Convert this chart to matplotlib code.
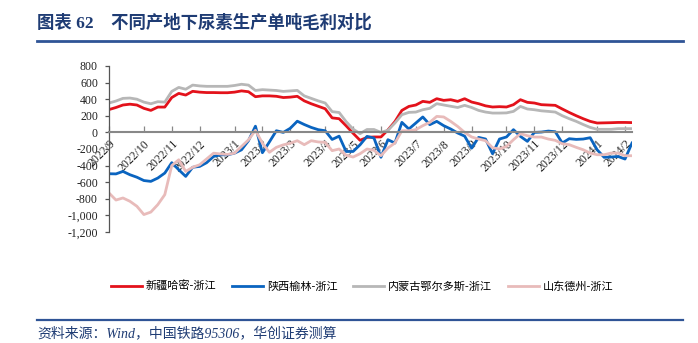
import matplotlib
matplotlib.use("Agg")
import matplotlib.pyplot as plt
from matplotlib.lines import Line2D
from matplotlib.ticker import FuncFormatter, FixedLocator, FixedFormatter
import pandas as pd

# ---- data ----
weeks = pd.date_range("2022-09-02", periods=76, freq="7D")

xinjiang_hami = [275, 300, 330, 340, 330, 290, 265, 305, 305, 420,
                 470, 450, 495, 485, 480, 480, 478, 478, 485, 500,
                 490, 430, 440, 440, 435, 420, 425, 435, 380, 345,
                 315, 285, 175, 165, 80, -10, -95, -60, -55, -55,
                 30, 130, 265, 313, 330, 374, 362, 406, 386, 394,
                 374, 406, 366, 346, 320, 306, 310, 306, 334, 394,
                 362, 354, 334, 330, 326, 282, 240, 201, 165, 133,
                 113, 115, 117, 120, 120, 118]

shaanxi_yulin = [-498, -500, -470, -510, -540, -580, -590, -550, -490, -365,
                 -450, -530, -420, -410, -365, -290, -270, -270, -250, -210,
                 -100, 75, -245, -115, 20, 0, 50, 135, 95, 60,
                 33, 20, -85, -45, -230, -230, -150, -48, -68, -300,
                 -88, -128, 121, 41, 113, 186, 93, 133, 81, 41,
                 -7, -45, -190, -60, -80, -257, -80, -55, 33, -48,
                 -108, 0, 4, 16, 8, -128, -76, -84, -80, -64,
                 -209, -300, -297, -290, -321, -128]

neimeng_ordos = [354, 378, 410, 414, 400, 365, 345, 370, 365, 494,
                 542, 520, 570, 560, 555, 555, 555, 555, 565, 580,
                 570, 505, 515, 510, 505, 494, 500, 506, 440, 410,
                 380, 354, 250, 240, 130, 40, -15, 35, 35, 0,
                 26, 113, 213, 241, 245, 273, 290, 346, 330, 315,
                 300, 326, 300, 265, 245, 233, 233, 235, 253, 313,
                 282, 273, 260, 253, 245, 201, 165, 133, 95, 60,
                 37, 37, 37, 45, 45, 45]

shandong_dezhou = [-730, -815, -790, -830, -890, -990, -960, -870, -750, -400,
                   -330, -470, -420, -390, -320, -250, -260, -265, -250, -170,
                   -90, 25, -130, -240, -180, -150, -130, -100, -148, -100,
                   -115, -120, -220, -200, -275, -297, -257, -200, -216, -281,
                   -188, -128, 20, 20, 33, 81, 121, 193, 186, 133,
                   72, 0, -55, -80, -100, -185, -200, -169, -88, -16,
                   -40, -56, -56, -80, -96, -136, -148, -180, -209, -249,
                   -269, -269, -249, -249, -281, -281]

series_names = ["新疆哈密-浙江", "陕西榆林-浙江", "内蒙古鄂尔多斯-浙江", "山东德州-浙江"]
series_values = [xinjiang_hami, shaanxi_yulin, neimeng_ordos, shandong_dezhou]
series_colors = ["#E3121B", "#0A64C0", "#B7B7B7", "#E8BBBA"]

y_ticks = list(range(-1200, 801, 200))

# ---- figure ----
CJK = ["Noto Sans CJK SC", "DejaVu Sans"]
SERIF = ["Liberation Serif", "Noto Sans CJK SC"]
W, H = 698, 343
fig = plt.figure(figsize=(W / 100, H / 100), dpi=100)
fig.patch.set_facecolor("white")

ax = fig.add_axes([109 / W, 1 - 232 / H, 523 / W, 166 / H])
x = list(range(len(weeks)))
handles = []
for name, vals, col in zip(series_names, series_values, series_colors):
    ln, = ax.plot(x, vals, color=col, lw=2.0, label=name, solid_joinstyle="round")
    handles.append(ln)

ax.set_xlim(0, len(weeks) - 1)
ax.set_ylim(-1200, 800)
ax.set_yticks(y_ticks)
ax.yaxis.set_major_formatter(FuncFormatter(lambda v, p: f"{int(v):,}"))

for s in ["top", "right"]:
    ax.spines[s].set_visible(False)
ax.spines["bottom"].set_position(("data", 0))
ax.spines["bottom"].set_color("#888888")
ax.spines["bottom"].set_linewidth(1.5)
ax.spines["left"].set_color("#555555")
ax.spines["left"].set_linewidth(0.9)
ax.tick_params(axis="x", direction="in", length=4, width=0.9, color="#888888", pad=4,
               labelsize=8.5, labelcolor="#222222", labelrotation=45)
ax.tick_params(axis="y", direction="out", length=3, width=0.9, color="#555555", pad=5,
               labelsize=8.5, labelcolor="#222222")

# month ticks at first week of each month
tick_idx = [i for i, d in enumerate(weeks) if i == 0 or d.month != weeks[i - 1].month]
tick_lab = [f"{weeks[i].year}/{weeks[i].month}" for i in tick_idx]
ax.xaxis.set_major_locator(FixedLocator(tick_idx))
ax.xaxis.set_major_formatter(FixedFormatter(tick_lab))
fig.canvas.draw()
for lab in ax.get_xticklabels():
    lab.set_family(SERIF)
    lab.set_rotation(45)
    lab.set_ha("right")
    lab.set_va("top")
    lab.set_rotation_mode("anchor")
for lab in ax.get_yticklabels():
    lab.set_family(SERIF)
ax.set_facecolor("none")

# title and rules
navy = "#1F3C74"
fig.text(37 / W, 1 - 23 / H, "图表 62    不同产地下尿素生产单吨毛利对比", ha="left", va="center",
         fontsize=12.5, fontweight="bold", color=navy, family=SERIF)
fig.add_artist(Line2D([37 / W, 683 / W], [1 - 41 / H] * 2, lw=2.0, color="#2F5496"))
fig.add_artist(Line2D([37 / W, 683 / W], [1 - 320 / H] * 2, lw=1.6, color="#2F5496"))
fig.text(37 / W, 1 - 333 / H, "资料来源：Wind，中国铁路95306，华创证券测算", ha="left", va="center",
         fontsize=10, style="italic", color=navy, family=SERIF)

fig.legend(handles, series_names, loc="center", bbox_to_anchor=(362 / W, 1 - 286 / H),
           ncol=4, frameon=False, handlelength=2.8, handletextpad=0.35,
           columnspacing=1.4, prop={"family": CJK, "size": 8})

fig.savefig("out.png", dpi=100, facecolor="white")
